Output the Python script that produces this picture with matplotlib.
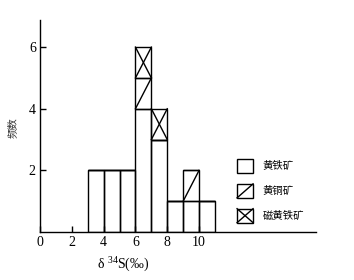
import matplotlib.pyplot as plt
from matplotlib.patches import Rectangle

plt.rcParams['font.family'] = ['Liberation Serif', 'Noto Sans CJK SC']
plt.rcParams['mathtext.fontset'] = 'custom'
plt.rcParams['mathtext.rm'] = 'Liberation Serif'

# histogram data (bin left edges, bin width 1)
bins_left = [3, 4, 5, 6, 7, 8, 9, 10]
pyrite = [2, 2, 2, 4, 3, 1, 1, 1]          # 黄铁矿
chalcopyrite = [0, 0, 0, 1, 0, 0, 1, 0]    # 黄铜矿
pyrrhotite = [0, 0, 0, 1, 1, 0, 0, 0]      # 磁黄铁矿
legend_labels = ['黄铁矿', '黄铜矿', '磁黄铁矿']
x_ticks = [0, 2, 4, 6, 8, 10]
y_ticks = [2, 4, 6]

fig = plt.figure(figsize=(3.54, 2.8), dpi=100)
ax = fig.add_axes([40 / 354, 48 / 280, 276 / 354, 212 / 280])

lw = 1.0
style = dict(width=1, align='edge', fill=False, edgecolor='black', linewidth=lw)

ax.bar(bins_left, pyrite, **style)
cp_bottom = pyrite
ax.bar(bins_left, chalcopyrite, bottom=cp_bottom, **style)
po_bottom = [a + b for a, b in zip(pyrite, chalcopyrite)]
ax.bar(bins_left, pyrrhotite, bottom=po_bottom, **style)

# single diagonal for chalcopyrite, cross for pyrrhotite
for x, b, h in zip(bins_left, cp_bottom, chalcopyrite):
    if h:
        ax.plot([x, x + 1], [b, b + h], color='black', lw=lw)
for x, b, h in zip(bins_left, po_bottom, pyrrhotite):
    if h:
        ax.plot([x, x + 1], [b, b + h], color='black', lw=lw)
        ax.plot([x, x + 1], [b + h, b], color='black', lw=lw)

ax.set_xlim(0, 17.35)
ax.set_ylim(0, 6.88)
ax.set_xticks(x_ticks)
ax.set_yticks(y_ticks)
ax.tick_params(direction='in', length=4, width=lw, labelsize=10, pad=3)
for s in ['top', 'right']:
    ax.spines[s].set_visible(False)
for s in ['left', 'bottom']:
    ax.spines[s].set_linewidth(lw)

ax.set_xlabel('δ $^{34}$S(‰)', fontsize=10)
ax.xaxis.set_label_coords((123 - 40) / 276, -0.105)
ax.set_ylabel('频数', fontsize=7.5, family=['Noto Sans CJK SC'], color='#333333')
ax.yaxis.set_label_coords(-0.082, 0.49)

# legend drawn by hand in axes fraction
bx0, bw, bh = 0.714, 0.058, 0.066
for i, lab in enumerate(legend_labels):
    yc = 0.311 - i * 0.117
    y0 = yc - bh / 2
    ax.add_patch(Rectangle((bx0, y0), bw, bh, transform=ax.transAxes,
                           fill=False, edgecolor='black', lw=lw, clip_on=False))
    if i >= 1:
        ax.plot([bx0, bx0 + bw], [y0, y0 + bh], transform=ax.transAxes,
                color='black', lw=lw, clip_on=False)
    if i == 2:
        ax.plot([bx0, bx0 + bw], [y0 + bh, y0], transform=ax.transAxes,
                color='black', lw=lw, clip_on=False)
    ax.text(bx0 + bw + 0.035, yc, lab, transform=ax.transAxes, fontsize=7.5,
            family=['Noto Sans CJK SC'], va='center', ha='left')

fig.savefig('out.png', dpi=100)
